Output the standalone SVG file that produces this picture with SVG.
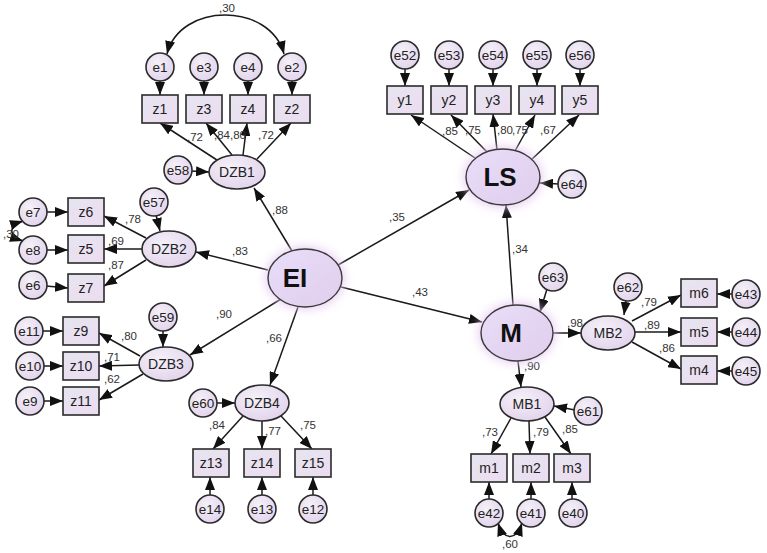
<svg xmlns="http://www.w3.org/2000/svg" width="767" height="553" viewBox="0 0 767 553">
<style>
.c{fill:url(#gc);stroke:#2b2b2b;stroke-width:1.6}
.b{fill:url(#gb);stroke:#2b2b2b;stroke-width:1.6}
.l{fill:url(#gl);stroke:#3a3a3a;stroke-width:1.4}
.t{font-family:"Liberation Sans",Arial,sans-serif;font-size:13.5px;fill:#222;text-anchor:middle}
.tb{font-family:"Liberation Sans",Arial,sans-serif;font-size:14px;fill:#222;text-anchor:middle}
.big{font-family:"Liberation Sans",Arial,sans-serif;font-size:26px;font-weight:bold;fill:#111;text-anchor:middle}
.w{font-family:"Liberation Sans",Arial,sans-serif;font-size:11.5px;fill:#333;text-anchor:middle}
#conn path,#conn line{stroke:#1a1a1a;stroke-width:1.5;fill:none}
.a{marker-end:url(#ah)}
.d{marker-start:url(#ah);marker-end:url(#ah)}
</style>
<defs>
<radialGradient id="gc" cx="0.4" cy="0.35" r="0.7"><stop offset="0" stop-color="#f4f0f8"/><stop offset="1" stop-color="#e2d3ec"/></radialGradient>
<linearGradient id="gb" x1="0" y1="0" x2="1" y2="1"><stop offset="0" stop-color="#e6e5f0"/><stop offset="1" stop-color="#ecdcf0"/></linearGradient>
<linearGradient id="gl" x1="0" y1="0" x2="1" y2="1"><stop offset="0" stop-color="#e8defa"/><stop offset="1" stop-color="#e0cdec"/></linearGradient>
<filter id="glow" x="-50%" y="-50%" width="200%" height="200%"><feGaussianBlur stdDeviation="5"/></filter>
<marker id="ah" viewBox="0 0 13 10" markerWidth="13" markerHeight="10" refX="13" refY="5" orient="auto-start-reverse" markerUnits="userSpaceOnUse"><path d="M0,0 L13,5 L0,10 z" fill="#111"/></marker>
</defs>
<rect width="767" height="553" fill="#fff"/>

<g id="conn">
<path class="d" d="M167,54 C180,2 270,2 284,54"/>
<line class="a" x1="160" y1="80" x2="160" y2="95"/>
<line class="a" x1="204" y1="80" x2="204" y2="95"/>
<line class="a" x1="248" y1="80" x2="248" y2="95"/>
<line class="a" x1="292" y1="80" x2="292" y2="95"/>
<line class="a" x1="220" y1="162" x2="160" y2="123"/>
<line class="a" x1="232" y1="155" x2="206" y2="123"/>
<line class="a" x1="243" y1="155" x2="247" y2="123"/>
<line class="a" x1="257" y1="159" x2="291" y2="123"/>
<line class="a" x1="191" y1="171" x2="209" y2="172"/>
<path class="d" d="M23,221 C8,226 8,236 23,241"/>
<line class="a" x1="46" y1="212" x2="68" y2="212"/>
<line class="a" x1="46" y1="250" x2="68" y2="250"/>
<line class="a" x1="46" y1="286" x2="68" y2="288"/>
<line class="a" x1="146" y1="238" x2="104" y2="216"/>
<line class="a" x1="142" y1="249" x2="104" y2="249"/>
<line class="a" x1="146" y1="260" x2="104" y2="286"/>
<line class="a" x1="156" y1="215" x2="160" y2="231"/>
<line class="a" x1="42" y1="331" x2="63" y2="331"/>
<line class="a" x1="43" y1="366" x2="63" y2="366"/>
<line class="a" x1="43" y1="401" x2="63" y2="401"/>
<line class="a" x1="140" y1="356" x2="99" y2="333"/>
<line class="a" x1="139" y1="365" x2="99" y2="366"/>
<line class="a" x1="143" y1="374" x2="99" y2="400"/>
<line class="a" x1="163" y1="330" x2="163" y2="347"/>
<line class="a" x1="216" y1="403" x2="235" y2="403"/>
<line class="a" x1="243" y1="416" x2="213" y2="449"/>
<line class="a" x1="262" y1="421" x2="262" y2="449"/>
<line class="a" x1="281" y1="416" x2="312" y2="449"/>
<line class="a" x1="210" y1="496" x2="210" y2="477"/>
<line class="a" x1="262" y1="496" x2="262" y2="477"/>
<line class="a" x1="313" y1="496" x2="313" y2="477"/>
<line class="a" x1="292" y1="251" x2="254" y2="188"/>
<line class="a" x1="268" y1="270" x2="196" y2="252"/>
<line class="a" x1="281" y1="299" x2="190" y2="355"/>
<line class="a" x1="298" y1="307" x2="270" y2="385"/>
<line class="a" x1="338" y1="265" x2="469" y2="190"/>
<line class="a" x1="341" y1="287" x2="482" y2="322"/>
<line class="a" x1="405" y1="68" x2="405" y2="86"/>
<line class="a" x1="449" y1="68" x2="449" y2="86"/>
<line class="a" x1="493" y1="68" x2="493" y2="86"/>
<line class="a" x1="537" y1="68" x2="537" y2="86"/>
<line class="a" x1="580" y1="68" x2="580" y2="86"/>
<line class="a" x1="475" y1="158" x2="411" y2="115"/>
<line class="a" x1="487" y1="152" x2="451" y2="115"/>
<line class="a" x1="497" y1="150" x2="493" y2="114"/>
<line class="a" x1="515" y1="151" x2="535" y2="115"/>
<line class="a" x1="531" y1="160" x2="579" y2="115"/>
<line class="a" x1="559" y1="184" x2="540" y2="183"/>
<line class="a" x1="513" y1="305" x2="506" y2="205"/>
<line class="a" x1="547" y1="289" x2="540" y2="312"/>
<line class="a" x1="553" y1="333" x2="581" y2="333"/>
<line class="a" x1="518" y1="361" x2="521" y2="387"/>
<line class="a" x1="626" y1="300" x2="624" y2="315"/>
<line class="a" x1="632" y1="321" x2="681" y2="295"/>
<line class="a" x1="635" y1="332" x2="681" y2="332"/>
<line class="a" x1="632" y1="342" x2="681" y2="369"/>
<line class="a" x1="733" y1="294" x2="717" y2="294"/>
<line class="a" x1="733" y1="332" x2="717" y2="332"/>
<line class="a" x1="733" y1="371" x2="717" y2="371"/>
<line class="a" x1="575" y1="410" x2="554" y2="406"/>
<line class="a" x1="511" y1="418" x2="491" y2="454"/>
<line class="a" x1="529" y1="421" x2="530" y2="454"/>
<line class="a" x1="545" y1="417" x2="571" y2="454"/>
<line class="a" x1="489" y1="500" x2="489" y2="482"/>
<line class="a" x1="531" y1="500" x2="531" y2="482"/>
<line class="a" x1="572" y1="500" x2="572" y2="482"/>
<path class="d" d="M498,523 C504,541 516,541 522,523"/>
</g>

<g id="labels">
<text class="w" x="227" y="12">,30</text>
<text class="w" x="195" y="141">,72</text>
<text class="w" x="222" y="139">,84</text>
<text class="w" x="238" y="139">,80</text>
<text class="w" x="266" y="139">,72</text>
<text class="w" x="11" y="238">,30</text>
<text class="w" x="133" y="223">,78</text>
<text class="w" x="116" y="245">,69</text>
<text class="w" x="116" y="269">,87</text>
<text class="w" x="129" y="340">,80</text>
<text class="w" x="112" y="361">,71</text>
<text class="w" x="112" y="383">,62</text>
<text class="w" x="217" y="429">,84</text>
<text class="w" x="273" y="435">,77</text>
<text class="w" x="308" y="429">,75</text>
<text class="w" x="280" y="214">,88</text>
<text class="w" x="240" y="255">,83</text>
<text class="w" x="224" y="318">,90</text>
<text class="w" x="274" y="342">,66</text>
<text class="w" x="397" y="221">,35</text>
<text class="w" x="420" y="296">,43</text>
<text class="w" x="450" y="135">,85</text>
<text class="w" x="473" y="134">,75</text>
<text class="w" x="505" y="134">,80</text>
<text class="w" x="520" y="134">,75</text>
<text class="w" x="548" y="134">,67</text>
<text class="w" x="520" y="253">,34</text>
<text class="w" x="575" y="327">,98</text>
<text class="w" x="532" y="370">,90</text>
<text class="w" x="649" y="306">,79</text>
<text class="w" x="652" y="329">,89</text>
<text class="w" x="667" y="352">,86</text>
<text class="w" x="490" y="436">,73</text>
<text class="w" x="541" y="436">,79</text>
<text class="w" x="570" y="433">,85</text>
<text class="w" x="510" y="548">,60</text>
</g>

<g id="EI"><ellipse cx="305" cy="278" rx="40" ry="32" fill="#e6c8f0" opacity="0.8" filter="url(#glow)"/><ellipse class="l" cx="305" cy="278" rx="37" ry="29"/><text class="big" x="295" y="287">EI</text></g>
<g id="LS"><ellipse cx="503" cy="177" rx="40" ry="31" fill="#e6c8f0" opacity="0.8" filter="url(#glow)"/><ellipse class="l" cx="503" cy="177" rx="37" ry="28"/><text class="big" x="500" y="186">LS</text></g>
<g id="M"><ellipse cx="517" cy="333" rx="39" ry="31" fill="#e6c8f0" opacity="0.8" filter="url(#glow)"/><ellipse class="l" cx="517" cy="333" rx="36" ry="28"/><text class="big" x="511" y="342">M</text></g>

<g id="DZB1"><ellipse class="c" cx="237" cy="172" rx="28" ry="17"/><text class="tb" x="237" y="177">DZB1</text></g>
<g id="DZB2"><ellipse class="c" cx="169" cy="249" rx="27" ry="18"/><text class="tb" x="169" y="254">DZB2</text></g>
<g id="DZB3"><ellipse class="c" cx="166" cy="364" rx="27" ry="17"/><text class="tb" x="166" y="369">DZB3</text></g>
<g id="DZB4"><ellipse class="c" cx="262" cy="403" rx="27" ry="18"/><text class="tb" x="262" y="408">DZB4</text></g>
<g id="MB2"><ellipse class="c" cx="608" cy="333" rx="27" ry="17"/><text class="tb" x="608" y="338">MB2</text></g>
<g id="MB1"><ellipse class="c" cx="527" cy="404" rx="27" ry="17"/><text class="tb" x="527" y="409">MB1</text></g>

<g id="z1"><rect class="b" x="142" y="95" width="36" height="28"/><text class="tb" x="160" y="114">z1</text></g>
<g id="z3"><rect class="b" x="186" y="95" width="36" height="28"/><text class="tb" x="204" y="114">z3</text></g>
<g id="z4"><rect class="b" x="230" y="95" width="36" height="28"/><text class="tb" x="248" y="114">z4</text></g>
<g id="z2"><rect class="b" x="274" y="95" width="36" height="28"/><text class="tb" x="292" y="114">z2</text></g>
<g id="z6"><rect class="b" x="68" y="198" width="36" height="28"/><text class="tb" x="86" y="217">z6</text></g>
<g id="z5"><rect class="b" x="68" y="235" width="36" height="28"/><text class="tb" x="86" y="254">z5</text></g>
<g id="z7"><rect class="b" x="68" y="274" width="36" height="28"/><text class="tb" x="86" y="293">z7</text></g>
<g id="z9"><rect class="b" x="63" y="317" width="36" height="28"/><text class="tb" x="81" y="336">z9</text></g>
<g id="z10"><rect class="b" x="63" y="352" width="36" height="28"/><text class="tb" x="81" y="371">z10</text></g>
<g id="z11"><rect class="b" x="63" y="387" width="36" height="28"/><text class="tb" x="81" y="406">z11</text></g>
<g id="z13"><rect class="b" x="193" y="449" width="36" height="28"/><text class="tb" x="211" y="468">z13</text></g>
<g id="z14"><rect class="b" x="244" y="449" width="36" height="28"/><text class="tb" x="262" y="468">z14</text></g>
<g id="z15"><rect class="b" x="295" y="449" width="36" height="28"/><text class="tb" x="313" y="468">z15</text></g>
<g id="y1"><rect class="b" x="387" y="86" width="36" height="28"/><text class="tb" x="405" y="105">y1</text></g>
<g id="y2"><rect class="b" x="431" y="86" width="36" height="28"/><text class="tb" x="449" y="105">y2</text></g>
<g id="y3"><rect class="b" x="475" y="86" width="36" height="28"/><text class="tb" x="493" y="105">y3</text></g>
<g id="y4"><rect class="b" x="519" y="86" width="36" height="28"/><text class="tb" x="537" y="105">y4</text></g>
<g id="y5"><rect class="b" x="562" y="86" width="36" height="28"/><text class="tb" x="580" y="105">y5</text></g>
<g id="m6"><rect class="b" x="681" y="279" width="36" height="28"/><text class="tb" x="699" y="298">m6</text></g>
<g id="m5"><rect class="b" x="681" y="318" width="36" height="28"/><text class="tb" x="699" y="337">m5</text></g>
<g id="m4"><rect class="b" x="681" y="356" width="36" height="28"/><text class="tb" x="699" y="375">m4</text></g>
<g id="m1"><rect class="b" x="471" y="454" width="36" height="28"/><text class="tb" x="489" y="473">m1</text></g>
<g id="m2"><rect class="b" x="513" y="454" width="36" height="28"/><text class="tb" x="531" y="473">m2</text></g>
<g id="m3"><rect class="b" x="554" y="454" width="36" height="28"/><text class="tb" x="572" y="473">m3</text></g>

<g id="e1"><circle class="c" cx="160" cy="67" r="14"/><text class="t" x="160" y="72">e1</text></g>
<g id="e3"><circle class="c" cx="204" cy="67" r="14"/><text class="t" x="204" y="72">e3</text></g>
<g id="e4"><circle class="c" cx="248" cy="67" r="14"/><text class="t" x="248" y="72">e4</text></g>
<g id="e2"><circle class="c" cx="292" cy="67" r="14"/><text class="t" x="292" y="72">e2</text></g>
<g id="e58"><circle class="c" cx="178" cy="170" r="14"/><text class="t" x="178" y="175">e58</text></g>
<g id="e57"><circle class="c" cx="154" cy="202" r="14"/><text class="t" x="154" y="207">e57</text></g>
<g id="e7"><circle class="c" cx="33" cy="212" r="14"/><text class="t" x="33" y="217">e7</text></g>
<g id="e8"><circle class="c" cx="33" cy="250" r="14"/><text class="t" x="33" y="255">e8</text></g>
<g id="e6"><circle class="c" cx="33" cy="285" r="14"/><text class="t" x="33" y="290">e6</text></g>
<g id="e59"><circle class="c" cx="163" cy="317" r="14"/><text class="t" x="163" y="322">e59</text></g>
<g id="e11"><circle class="c" cx="29" cy="331" r="14"/><text class="t" x="29" y="336">e11</text></g>
<g id="e10"><circle class="c" cx="30" cy="366" r="14"/><text class="t" x="30" y="371">e10</text></g>
<g id="e9"><circle class="c" cx="30" cy="401" r="14"/><text class="t" x="30" y="406">e9</text></g>
<g id="e60"><circle class="c" cx="203" cy="403" r="14"/><text class="t" x="203" y="408">e60</text></g>
<g id="e14"><circle class="c" cx="210" cy="509" r="14"/><text class="t" x="210" y="514">e14</text></g>
<g id="e13"><circle class="c" cx="262" cy="509" r="14"/><text class="t" x="262" y="514">e13</text></g>
<g id="e12"><circle class="c" cx="313" cy="509" r="14"/><text class="t" x="313" y="514">e12</text></g>
<g id="e52"><circle class="c" cx="405" cy="55" r="14"/><text class="t" x="405" y="60">e52</text></g>
<g id="e53"><circle class="c" cx="449" cy="55" r="14"/><text class="t" x="449" y="60">e53</text></g>
<g id="e54"><circle class="c" cx="493" cy="55" r="14"/><text class="t" x="493" y="60">e54</text></g>
<g id="e55"><circle class="c" cx="537" cy="55" r="14"/><text class="t" x="537" y="60">e55</text></g>
<g id="e56"><circle class="c" cx="580" cy="55" r="14"/><text class="t" x="580" y="60">e56</text></g>
<g id="e64"><circle class="c" cx="572" cy="184" r="14"/><text class="t" x="572" y="189">e64</text></g>
<g id="e63"><circle class="c" cx="553" cy="277" r="14"/><text class="t" x="553" y="282">e63</text></g>
<g id="e62"><circle class="c" cx="628" cy="287" r="14"/><text class="t" x="628" y="292">e62</text></g>
<g id="e43"><circle class="c" cx="746" cy="294" r="14"/><text class="t" x="746" y="299">e43</text></g>
<g id="e44"><circle class="c" cx="746" cy="332" r="14"/><text class="t" x="746" y="337">e44</text></g>
<g id="e45"><circle class="c" cx="746" cy="371" r="14"/><text class="t" x="746" y="376">e45</text></g>
<g id="e61"><circle class="c" cx="588" cy="411" r="14"/><text class="t" x="588" y="416">e61</text></g>
<g id="e42"><circle class="c" cx="489" cy="513" r="14"/><text class="t" x="489" y="518">e42</text></g>
<g id="e41"><circle class="c" cx="531" cy="513" r="14"/><text class="t" x="531" y="518">e41</text></g>
<g id="e40"><circle class="c" cx="573" cy="513" r="14"/><text class="t" x="573" y="518">e40</text></g>
</svg>
